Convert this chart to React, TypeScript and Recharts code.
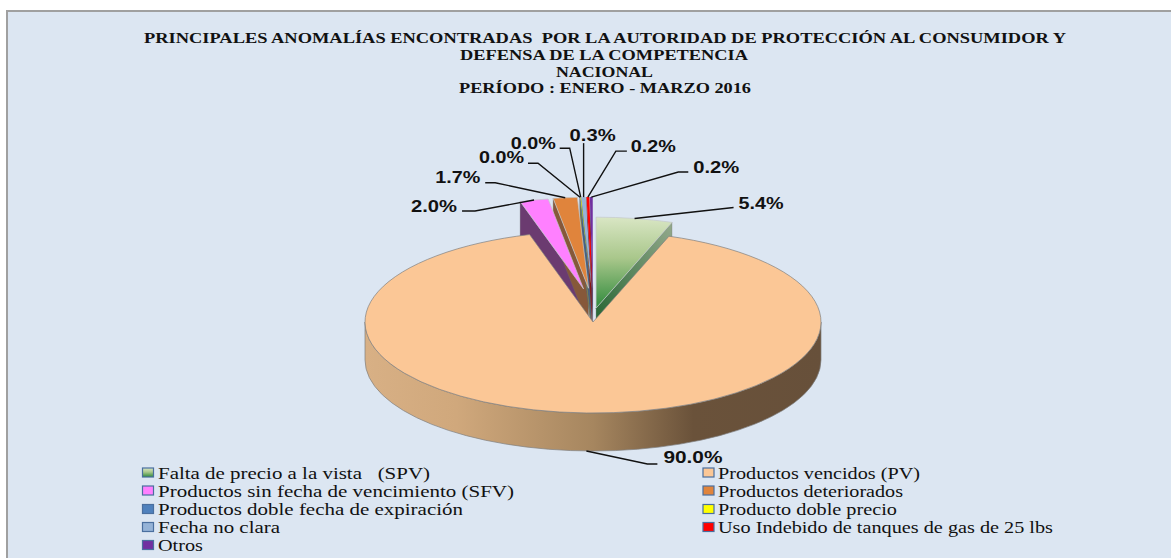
import React from 'react';
import { PieChart, Pie, Legend } from 'recharts';

const TITLE_LINES = [
  'PRINCIPALES ANOMALÍAS ENCONTRADAS  POR LA AUTORIDAD DE PROTECCIÓN AL CONSUMIDOR Y',
  'DEFENSA DE LA COMPETENCIA',
  'NACIONAL',
  'PERÍODO : ENERO - MARZO 2016',
];
const CATEGORIES = [
  'Falta de precio a la vista   (SPV)',
  'Productos vencidos (PV)',
  'Productos sin fecha de vencimiento (SFV)',
  'Productos deteriorados',
  'Productos doble fecha de expiración',
  'Producto doble precio',
  'Fecha no clara',
  'Uso Indebido de tanques de gas de 25 lbs',
  'Otros',
];
const VALUES = [5.4, 90.0, 2.0, 1.7, 0.04, 0.04, 0.3, 0.2, 0.2];

// styling
const FACE = ['url(#greenFace)', '#fbc796', '#ff80ff', '#e0843c', '#4f81bd', '#ffff00', '#95b3d7', '#ff0000', '#7030a0'];
const WALL = ['url(#greenWall)', 'url(#pvWall)', '#6b3b70', '#86583a', '#2f4f78', '#99992f', '#48617f', '#8a1010', '#43205f'];
const EXPLODE = [18, 0, 43.5, 43.5, 43.5, 43.5, 43.5, 43.5, 43.5];
const LEGEND_TEXT_W = [272, 202, 356, 185, 305, 179, 122, 335, 45];
// elbow dx, elbow dy, run dx, text dx (from end of run), text dy, text width
const LEADER = [
  [99, -11, 0, 5, -4, 45],
  [61, 13, 10, 6, -6, 59],
  [-59, 11, -13, -51, -5, 46],
  [-70, -15, -10, -50, -5, 45],
  [-42, -34, -10, -49, -6, 45],
  [-11, -49, -10, -49, -5, 45],
  [0, -54, 0, -14, -8, 46],
  [28, -46, 11, 4, -5, 45],
  [87, -25, 10, 5, -5, 46],
];

const WIDTH = 1171;
const HEIGHT = 558;
const CX = 593;
const CY = 322;
const RX = 228;
const RATIO = 91 / 228;
const DEPTH = 38;
const K = 0.78;

const table = CATEGORIES.map((name, i) => ({ name, value: VALUES[i], idx: i }));

const rad = (d: number) => (d * Math.PI) / 180;
const offsetOf = (idx: number, compass: number) => ({
  dx: Math.sin(rad(compass)) * EXPLODE[idx],
  dy: -Math.cos(rad(compass)) * EXPLODE[idx] * K,
});
const rim = (cx: number, cy: number, rx: number, compass: number) => ({
  x: cx + rx * Math.sin(rad(compass)),
  y: cy - rx * RATIO * Math.cos(rad(compass)),
});

function sectorPath(cx: number, cy: number, rx: number, a0: number, a1: number) {
  const p0 = rim(cx, cy, rx, a0);
  const p1 = rim(cx, cy, rx, a1);
  const large = a1 - a0 > 180 ? 1 : 0;
  return `M${cx},${cy}L${p0.x},${p0.y}A${rx},${rx * RATIO} 0 ${large} 1 ${p1.x},${p1.y}Z`;
}

function geometry(props: any) {
  const { cx, cy, outerRadius, startAngle, endAngle, payload } = props;
  const idx = payload?.idx ?? props.idx;
  const a0 = 90 - startAngle;
  const a1 = 90 - endAngle;
  const mid = (a0 + a1) / 2;
  const { dx, dy } = offsetOf(idx, mid);
  return { idx, a0, a1, mid, x: cx + dx, y: cy + dy, r: outerRadius };
}

function wallOf(props: any) {
  const { idx, a0, a1, mid, x, y, r } = geometry(props);
  if (idx === 1) {
    const l = rim(x, y, r, 270);
    const e = rim(x, y, r, 90);
    const ry = r * RATIO;
    return (
      <path
        d={`M${l.x},${l.y}A${r},${ry} 0 0 0 ${e.x},${e.y}L${e.x},${e.y + DEPTH}A${r},${ry} 0 0 1 ${l.x},${l.y + DEPTH}Z`}
        fill={WALL[idx]}
        stroke="#7f7f7f"
        strokeWidth={0.7}
      />
    );
  }
  const edge = rim(x, y, r, mid > 180 ? a0 : a1);
  return (
    <polygon
      points={`${x},${y} ${edge.x},${edge.y} ${edge.x},${edge.y + DEPTH} ${x},${y + DEPTH}`}
      fill={WALL[idx]}
      stroke="#6f6f6f"
      strokeWidth={0.3}
    />
  );
}

function faceOf(props: any) {
  const { idx, a0, a1, x, y, r } = geometry(props);
  const stroke = idx === 1 ? '#7f7f7f' : idx < 4 ? '#c4c8cc' : 'none';
  return <path d={sectorPath(x, y, r, a0, a1)} fill={FACE[idx]} stroke={stroke} strokeWidth={0.7} />;
}

const isBig = (props: any) => (props.payload?.idx ?? props.idx) === 1;
const shapeWalls = (props: any) => (isBig(props) ? <g /> : wallOf(props));
const shapeFaces = (props: any) => (isBig(props) ? <g /> : faceOf(props));
const shapeBig = (props: any) =>
  isBig(props) ? (
    <g>
      {wallOf(props)}
      {faceOf(props)}
    </g>
  ) : (
    <g />
  );

function LeaderLabel(props: any) {
  const { cx, cy, outerRadius, midAngle, payload, value } = props;
  const idx = payload?.idx ?? props.idx;
  const compass = 90 - midAngle;
  const { dx, dy } = offsetOf(idx, compass);
  const a = rim(cx + dx, cy + dy, outerRadius, compass);
  const startY = idx === 1 ? a.y + DEPTH : a.y;
  const [ex, ey, run, tx, ty, tw] = LEADER[idx];
  const e = { x: a.x + ex, y: startY + ey };
  const endX = e.x + run;
  return (
    <g>
      <polyline points={`${a.x},${startY} ${e.x},${e.y} ${endX},${e.y}`} fill="none" stroke="#111" strokeWidth={1.4} />
      <text
        x={endX + tx}
        y={e.y + ty}
        dominantBaseline="central"
        fontFamily="Liberation Sans"
        fontWeight="bold"
        fontSize={17}
        fill="#111"
        textLength={tw}
        lengthAdjust="spacingAndGlyphs"
      >
        {`${Number(value).toFixed(1)}%`}
      </text>
    </g>
  );
}

const LEGEND_LEFT = 130;
const LEGEND_TOP = 462;
const ROW_Y = [472.5, 490.5, 509, 527, 545];

function LegendBox() {
  return (
    <svg width={1000} height={96} style={{ display: 'block' }}>
      {CATEGORIES.map((name, i) => {
        const col = i % 2;
        const row = Math.floor(i / 2);
        const sx = (col === 0 ? 142.5 : 703) - LEGEND_LEFT;
        const y = ROW_Y[row] - LEGEND_TOP;
        return (
          <g key={name}>
            <rect x={sx} y={y - 4.5} width={11} height={9} fill={FACE[i]} stroke="#4a6f9f" strokeWidth={1.2} />
            <text
              x={sx + (col === 0 ? 15.5 : 15)}
              y={y}
              dominantBaseline="central"
              fontFamily="Liberation Serif"
              fontSize={17.5}
              fill="#111"
              textLength={LEGEND_TEXT_W[i]}
              lengthAdjust="spacingAndGlyphs"
              xmlSpace="preserve"
            >
              {name}
            </text>
          </g>
        );
      })}
    </svg>
  );
}

const TITLE_BOX = [
  [144, 922, 37],
  [460, 288, 54],
  [556, 97, 71],
  [459, 292, 87],
];

const sharedPie = {
  data: table,
  dataKey: 'value',
  nameKey: 'name',
  cx: CX,
  cy: CY,
  innerRadius: 0,
  outerRadius: RX,
  startAngle: 90,
  endAngle: -270,
  stroke: 'none',
  isAnimationActive: false,
};

export default function App() {
  return (
    <div
      style={{
        position: 'absolute',
        left: 0,
        top: 0,
        width: WIDTH,
        height: HEIGHT,
        background: '#fff',
        overflow: 'hidden',
      }}
    >
      <div
        style={{
          position: 'absolute',
          left: 6,
          top: 10,
          width: WIDTH,
          height: HEIGHT,
          background: '#dce6f2',
          borderLeft: '2px solid #a0a0a0',
          borderTop: '2px solid #a0a0a0',
        }}
      />
      <div style={{ position: 'absolute', left: 0, top: 0 }}>
        <PieChart width={WIDTH} height={HEIGHT} margin={{ top: 0, right: 0, bottom: 0, left: 0 }}>
          <defs>
            <linearGradient id="greenFace" x1="0" y1="0" x2="0" y2="1">
              <stop offset="0" stopColor="#d9e6c4" />
              <stop offset="0.45" stopColor="#a9c78b" />
              <stop offset="1" stopColor="#2f8a3c" />
            </linearGradient>
            <linearGradient id="greenWall" x1="1" y1="0" x2="0" y2="1">
              <stop offset="0" stopColor="#94a98c" />
              <stop offset="1" stopColor="#1b5f2a" />
            </linearGradient>
            <linearGradient id="pvWall" x1="0" y1="0" x2="1" y2="0">
              <stop offset="0" stopColor="#d8b085" />
              <stop offset="0.2" stopColor="#d0a87c" />
              <stop offset="0.5" stopColor="#a6865f" />
              <stop offset="0.72" stopColor="#6a523a" />
              <stop offset="1" stopColor="#67503a" />
            </linearGradient>
          </defs>
          {TITLE_LINES.map((line, i) => (
            <text
              key={line}
              x={TITLE_BOX[i][0]}
              y={TITLE_BOX[i][2]}
              dominantBaseline="central"
              fontFamily="Liberation Serif"
              fontWeight="bold"
              fontSize={15.5}
              fill="#111"
              textLength={TITLE_BOX[i][1]}
              lengthAdjust="spacingAndGlyphs"
              xmlSpace="preserve"
            >
              {line}
            </text>
          ))}
          <Pie {...sharedPie} shape={shapeWalls} />
          <Pie {...sharedPie} shape={shapeFaces} />
          <Pie {...sharedPie} shape={shapeBig} label={LeaderLabel} labelLine={false} />
          <Legend
            content={LegendBox}
            verticalAlign="bottom"
            wrapperStyle={{ left: LEGEND_LEFT, top: LEGEND_TOP, bottom: 'auto', width: 1000, height: 96 }}
          />
        </PieChart>
      </div>
    </div>
  );
}
